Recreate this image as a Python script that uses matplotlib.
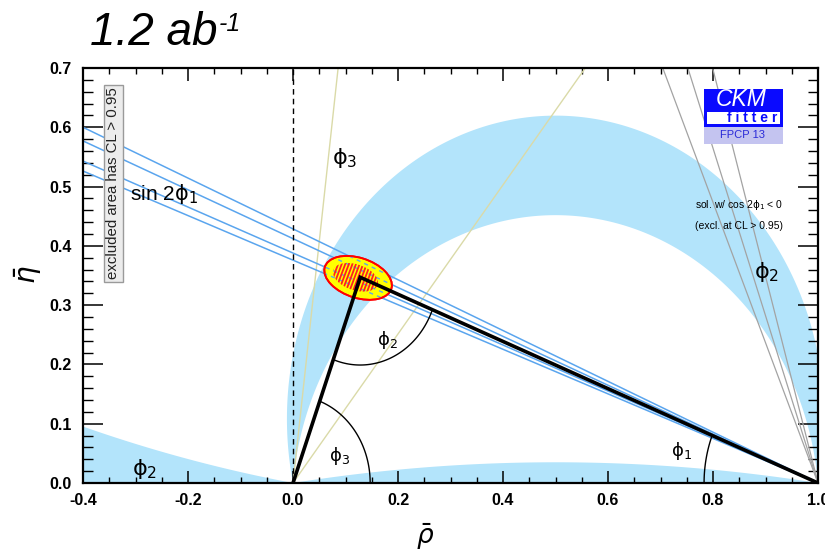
import numpy as np
import matplotlib
matplotlib.use("Agg")
import matplotlib.pyplot as plt
from matplotlib.patches import Polygon, Ellipse, Rectangle
from matplotlib.ticker import FixedLocator, MultipleLocator

plt.rcParams["font.family"] = ["Liberation Sans", "DejaVu Sans"]
plt.rcParams["axes.unicode_minus"] = False
plt.rcParams["mathtext.fontset"] = "dejavusans"

# ---------------- constraint values (rho-bar, eta-bar plane) ----------------
apex = (0.128, 0.347)                       # fitted apex of the unitarity triangle
phi2_band_deg = (77.8, 95.8)                # phi2 solution around the apex
phi2_flat_deg = (172.0, 180.0)              # phi2 solution hugging the rho axis
phi2_left_deg = 9.5                         # phi2 solution at negative rho (0 .. 9.5 deg)
sin2phi1_deg = [20.6, 21.2, 22.4, 23.2]     # sin 2phi1 contour lines (phi1 values)
cos2phi1_neg_deg = [67.1, 70.5, 74.0]       # mirror solution with cos 2phi1 < 0
phi3_deg = [51.5, 83.0]                     # phi3 band edges
fit_center = (0.124, 0.346)                 # global fit 95% CL region
fit_size = (0.132, 0.068)
fit_tilt = -15.0
core_center = (0.119, 0.347)                # global fit 68% CL region
core_size = (0.088, 0.044)

xticks = [-0.4, -0.2, 0.0, 0.2, 0.4, 0.6, 0.8, 1.0]
xtick_labels = ["-0.4", "-0.2", "0.0", "0.2", "0.4", "0.6", "0.8", "1.0"]
yticks = [0.0, 0.1, 0.2, 0.3, 0.4, 0.5, 0.6, 0.7]
ytick_labels = ["0.0", "0.1", "0.2", "0.3", "0.4", "0.5", "0.6", "0.7"]

band_color = "#b3e4fb"
line_blue = "#5aa5ee"
khaki = "#dadaa8"
gray_line = "#a3a3a3"

W, H = 825, 554


def fx(px):
    return px / W


def fy(py):
    return 1 - py / H


def phi2_arc(deg, n=700):
    """Locus of constant phi2: circle through (0,0) and (1,0), upper part."""
    if deg >= 180.0:
        return np.array([1.0, 0.0]), np.array([0.0, 0.0])
    a = np.radians(deg)
    c = 0.5 / np.tan(a)
    r = 0.5 / np.sin(a)
    t0 = np.arctan2(-c, 0.5)
    t1 = np.arctan2(-c, -0.5)
    if t1 < t0:
        t1 += 2 * np.pi
    t = np.linspace(t0, t1, n)
    return 0.5 + r * np.cos(t), c + r * np.sin(t)


def phi2_band(lo, hi):
    x1, y1 = phi2_arc(lo)
    x2, y2 = phi2_arc(hi)
    return np.column_stack([np.r_[x1, x2[::-1]], np.r_[y1, y2[::-1]]])


fig = plt.figure(figsize=(W / 100, H / 100), dpi=100)
ax = fig.add_axes([fx(83), fy(483), (818 - 83) / W, (483 - 68) / H])
ax.set_xlim(-0.4, 1.0)
ax.set_ylim(0.0, 0.7)

# phi2 bands
ax.add_patch(Polygon(phi2_band(*phi2_band_deg), closed=True, facecolor=band_color,
                     edgecolor="none", zorder=1))
ax.add_patch(Polygon(phi2_band(*phi2_flat_deg), closed=True, facecolor=band_color,
                     edgecolor="none", zorder=1))
a = np.radians(phi2_left_deg)
c, r = 0.5 / np.tan(a), 0.5 / np.sin(a)
xs = np.linspace(-0.5, 0.0, 300)
ys = c - np.sqrt(r ** 2 - (xs - 0.5) ** 2)
ax.add_patch(Polygon(np.column_stack([np.r_[xs, -0.5], np.r_[ys, 0.0]]), closed=True,
                     facecolor=band_color, edgecolor="none", zorder=1))

# phi3 lines from the origin
for g in phi3_deg:
    gr = np.radians(g)
    ax.plot([0, 2 * np.cos(gr)], [0, 2 * np.sin(gr)], color=khaki, lw=1.0, zorder=2)

# second sin 2phi1 solution
for b in cos2phi1_neg_deg:
    br = np.radians(b)
    ax.plot([1, 1 - 2 * np.cos(br)], [0, 2 * np.sin(br)], color=gray_line, lw=0.9, zorder=2)

# sin 2phi1 lines
for b in sin2phi1_deg:
    br = np.radians(b)
    ax.plot([1, 1 - 2 * np.cos(br)], [0, 2 * np.sin(br)], color=line_blue, lw=1.1, zorder=3)

# dashed rho = 0 line
ax.plot([0, 0], [0, 0.7], color="black", lw=1.0, dashes=(4, 3), zorder=3)

# global fit region
fit = Ellipse(fit_center, fit_size[0], fit_size[1], angle=fit_tilt,
              facecolor="#ffff00", edgecolor="#ff0000", lw=1.3, zorder=4)
ax.add_patch(fit)
for b in sin2phi1_deg:
    br = np.radians(b)
    ln, = ax.plot([1, 1 - 2 * np.cos(br)], [0, 2 * np.sin(br)], color=line_blue,
                  lw=1.0, dashes=(3, 3), zorder=4.2)
    ln.set_clip_path(fit)
core = Ellipse(core_center, core_size[0], core_size[1], angle=fit_tilt,
               facecolor="none", edgecolor="none", zorder=4.3)
ax.add_patch(core)
cx, cy = core_center
for x0 in np.arange(cx - 0.09, cx + 0.09, 0.0068):
    hl, = ax.plot([x0 - 0.04, x0 + 0.04], [cy - 0.095, cy + 0.095], color="#ff2020",
                  lw=1.3, zorder=4.4)
    hl.set_clip_path(core)
fit_edge = Ellipse(fit_center, fit_size[0], fit_size[1], angle=fit_tilt,
                   facecolor="none", edgecolor="#ff0000", lw=1.3, zorder=4.5)
ax.add_patch(fit_edge)

# unitarity triangle
axp, ayp = apex
ax.plot([0, axp, 1], [0, ayp, 0], color="black", lw=2.6, zorder=6,
        solid_joinstyle="miter", solid_capstyle="butt")

# angle arcs
gamma = np.arctan2(ayp, axp)
beta = np.arctan2(ayp, 1 - axp)
t = np.linspace(0, gamma, 100)
ax.plot(0.147 * np.cos(t), 0.147 * np.sin(t), color="black", lw=1.0, zorder=5)
t = np.linspace(np.pi + gamma, 2 * np.pi - beta, 100)
ax.plot(axp + 0.148 * np.cos(t), ayp + 0.148 * np.sin(t), color="black", lw=1.0, zorder=5)
t = np.linspace(np.pi - beta, np.pi, 100)
ax.plot(1 + 0.217 * np.cos(t), 0.217 * np.sin(t), color="black", lw=1.0, zorder=5)

# labels inside the plot
small = dict(fontsize=13, ha="center", va="center", zorder=7)
big = dict(fontsize=16, ha="center", va="center", zorder=7)
ax.text(0.088, 0.046, r"$\mathrm{\phi}_3$", **small)
ax.text(0.180, 0.241, r"$\mathrm{\phi}_2$", **small)
ax.text(0.740, 0.054, r"$\mathrm{\phi}_1$", **small)
ax.text(0.099, 0.549, r"$\mathrm{\phi}_3$", **big)
ax.text(-0.282, 0.024, r"$\mathrm{\phi}_2$", **big)
ax.text(0.902, 0.356, r"$\mathrm{\phi}_2$", **big)
ax.text(-0.310, 0.487, r"sin 2$\mathrm{\phi}_1$", fontsize=15, ha="left", va="center", zorder=7)
ax.text(0.766, 0.469, r"sol. w/ cos 2$\mathrm{\phi}_1$ < 0", fontsize=7.5, ha="left",
        va="center", zorder=7)
ax.text(0.766, 0.433, "(excl. at CL > 0.95)", fontsize=7.5, ha="left", va="center", zorder=7)
ax.text(-0.342, 0.505, "excluded area has CL > 0.95", rotation=90, fontsize=10.8,
        ha="center", va="center", color="#222222", zorder=8,
        bbox=dict(boxstyle="square,pad=0.18", facecolor="#ececec", edgecolor="#9a9a9a", lw=1.0))

# axes styling
for s in ax.spines.values():
    s.set_linewidth(1.6)
    s.set_zorder(9)
ax.xaxis.set_major_locator(FixedLocator(xticks))
ax.xaxis.set_minor_locator(MultipleLocator(0.05))
ax.yaxis.set_major_locator(FixedLocator(yticks))
ax.yaxis.set_minor_locator(MultipleLocator(0.02))
ax.set_xticklabels(xtick_labels, fontweight="bold", fontsize=11.5)
ax.set_yticklabels(ytick_labels, fontweight="bold", fontsize=11.5)
ax.tick_params(axis="x", which="major", direction="in", length=9, width=1.1,
               top=True, bottom=True, pad=7.5)
ax.tick_params(axis="x", which="minor", direction="in", length=4.5, width=1.0,
               top=True, bottom=True)
ax.tick_params(axis="y", which="major", direction="in", length=14.5, width=1.1,
               left=True, right=True, pad=8)
ax.tick_params(axis="y", which="minor", direction="in", length=7.2, width=1.0,
               left=True, right=True)

fig.text(fx(425), fy(537), r"$\bar{\rho}$", fontsize=19, ha="center", va="center")
fig.text(fx(28), fy(275), r"$\bar{\eta}$", fontsize=20, ha="center", va="center", rotation=90)

# CKMfitter logo
logo_blue = "#0a0aff"
fig.add_artist(Rectangle((fx(704), fy(127)), 79 / W, 38 / H, transform=fig.transFigure,
                         facecolor=logo_blue, edgecolor="none"))
fig.add_artist(Rectangle((fx(707), fy(124)), 73 / W, 12.5 / H, transform=fig.transFigure,
                         facecolor="white", edgecolor="none"))
fig.add_artist(Rectangle((fx(704), fy(143.5)), 79 / W, 16.5 / H, transform=fig.transFigure,
                         facecolor="#c4c4f0", edgecolor="none"))
fig.text(fx(741), fy(100), "CKM", color="white", fontsize=16.5, style="italic",
         ha="center", va="center")
fig.text(fx(752), fy(118.5), "f i t t e r", color=logo_blue, fontsize=10, fontweight="bold",
         ha="center", va="center")
fig.text(fx(743), fy(135.5), "FPCP 13", color="#2a2ad8", fontsize=8, ha="center", va="center")

# luminosity title
title = fig.text(fx(90), fy(45), "1.2 ab", fontsize=33, style="italic", va="baseline")
fig.canvas.draw()
bb = title.get_window_extent()
fig.text((bb.x1 + 1) / W, fy(31), "-1", fontsize=18, style="italic", va="baseline")

fig.savefig("out.png", dpi=100)
